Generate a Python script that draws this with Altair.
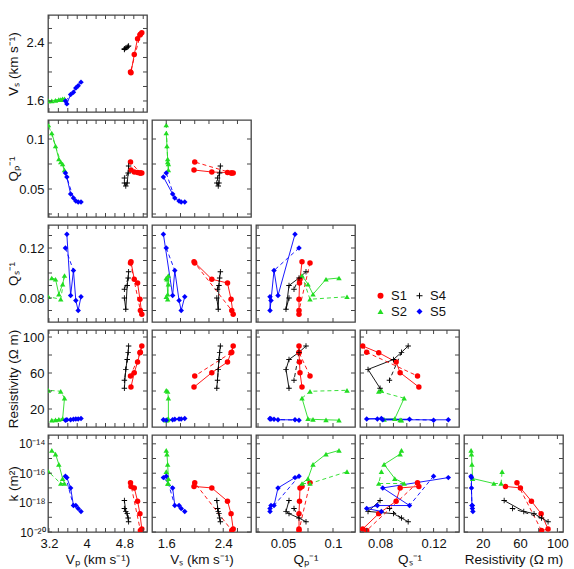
import altair as alt
import pandas as pd

# ---------------- measurements (same point order in every array) ----------------
samples = ["S1", "S2", "S4", "S5"]
sample_colors = ["#ff0000", "#22dd22", "#000000", "#0000ff"]
PLUS = "M-1,-0.16H1V0.16H-1Z M-0.16,-1H0.16V1H-0.16Z"
sample_shapes = ["circle", "triangle-up", PLUS, "diamond"]

s1_vp = [4.93, 4.94, 5.01, 5.08, 5.13, 5.17, 5.14]
s1_vs = [2.00, 1.99, 2.24, 2.46, 2.51, 2.54, 2.52]
s1_qp = [0.077, 0.069, 0.067, 0.0665, 0.066, 0.066, 0.066]
s1_qs = [0.108, 0.109, 0.095, 0.092, 0.079, 0.067, 0.070]
s1_res = [56.7, 44.4, 60.4, 72.2, 82.6, 90.0, 83.0]
s1_log10k = [-16.65, -16.9, -17.0, -17.9, -18.75, -19.8, -19.9]
s1_solid = [1, 2, 3, 4, 5]
s1_dashed = [5, 6, 0]

s2_vp = [3.19, 3.26, 3.34, 3.41, 3.45, 3.49, 3.53]
s2_vs = [1.60, 1.60, 1.61, 1.62, 1.62, 1.63, 1.63]
s2_qp = [0.114, 0.106, 0.093, 0.080, 0.077, 0.075, 0.069]
s2_qs = [0.081, 0.096, 0.095, 0.083, 0.079, 0.091, 0.098]
s2_res = [40.8, 7.6, 8.0, 8.5, 39.7, 9.2, 32.0]
s2_log10k = [-15.9, -14.45, -14.7, -15.4, -16.7, -16.36, -16.7]
s2_solid = [1, 2, 3, 5, 6]
s2_dashed = [6, 4, 0]

s4_vp = [4.80, 4.80, 4.83, 4.86, 4.88, 4.89]
s4_vs = [2.31, 2.32, 2.33, 2.34, 2.35, 2.36]
s4_qp = [0.056, 0.061, 0.053, 0.056, 0.066, 0.073]
s4_qs = [0.080, 0.087, 0.071, 0.090, 0.096, 0.101]
s4_res = [43.0, 52.0, 64.0, 75.0, 83.0, 90.0]
s4_log10k = [-17.86, -18.4, -18.6, -18.75, -19.05, -19.3]
s4_solid = [0, 2, 3, 4, 5]
s4_dashed = [4, 1]

s5_vp = [3.55, 3.58, 3.66, 3.72, 3.77, 3.82, 3.88]
s5_vs = [1.60, 1.56, 1.69, 1.72, 1.78, 1.81, 1.86]
s5_qp = [0.066, 0.062, 0.045, 0.041, 0.038, 0.037, 0.037]
s5_qs = [0.120, 0.131, 0.082, 0.102, 0.078, 0.070, 0.081]
s5_res = [7.5, 8.0, 8.0, 8.5, 9.0, 9.0, 9.5]
s5_log10k = [-16.2, -16.3, -17.0, -18.2, -18.2, -18.4, -18.6]
s5_solid = [1, 2, 3, 4, 5, 6]
s5_dashed = [0, 3]

# ---------------- tables ----------------
series = {
    "S1": (s1_vp, s1_vs, s1_qp, s1_qs, s1_res, s1_log10k, s1_solid, s1_dashed),
    "S2": (s2_vp, s2_vs, s2_qp, s2_qs, s2_res, s2_log10k, s2_solid, s2_dashed),
    "S4": (s4_vp, s4_vs, s4_qp, s4_qs, s4_res, s4_log10k, s4_solid, s4_dashed),
    "S5": (s5_vp, s5_vs, s5_qp, s5_qs, s5_res, s5_log10k, s5_solid, s5_dashed),
}

pts, solid_rows, dashed_rows = [], [], []
for name, (vp, vs, qp, qs, res, lk, solid, dashed) in series.items():
    recs = [dict(sample=name, vp=vp[i], vs=vs[i], qp=qp[i], qs=qs[i],
                 res=res[i], k=10 ** lk[i]) for i in range(len(vp))]
    pts += recs
    solid_rows += [dict(recs[i], ord=j) for j, i in enumerate(solid)]
    dashed_rows += [dict(recs[i], ord=j) for j, i in enumerate(dashed)]

points_df = pd.DataFrame(pts)
solid_df = pd.DataFrame(solid_rows)
dashed_df = pd.DataFrame(dashed_rows)

# ---------------- axes definitions ----------------
COL_VARS = ["vp", "vs", "qp", "qs", "res"]
ROW_VARS = ["vs", "qp", "qs", "res", "k"]

DOM_X = {"vp": [3.18, 5.28], "vs": [1.40, 2.79], "qp": [0.023, 0.122],
         "qs": [0.065, 0.139], "res": [0, 106]}
DOM_Y = {"vs": [1.448, 2.786], "qp": [0.022, 0.119], "qs": [0.0608, 0.1384],
         "res": [0, 107.8], "k": [1e-20, 10 ** -13.4]}

TITLES = {"vp": "Vₚ (km s⁻¹)", "vs": "Vₛ (km s⁻¹)", "qp": "Qₚ⁻¹",
          "qs": "Qₛ⁻¹", "res": "Resistivity (Ω m)", "k": "k (m²)"}
LABEL_VALUES = {"vp": [3.2, 4.0, 4.8], "vs": [1.6, 2.4], "qp": [0.05, 0.1],
                "qs": [0.08, 0.12], "res": [20, 60, 100],
                "k": [1e-20, 1e-18, 1e-16, 1e-14]}
TICK_VALUES = {
    "vp": [3.2, 3.4, 3.6, 3.8, 4.0, 4.2, 4.4, 4.6, 4.8, 5.0, 5.2],
    "vs": [1.6, 1.8, 2.0, 2.2, 2.4, 2.6],
    "qp": [0.025, 0.05, 0.075, 0.1],
    "qs": [0.07, 0.08, 0.09, 0.10, 0.11, 0.12, 0.13],
    "res": [20, 40, 60, 80, 100],
    "k": [1e-20, 1e-19, 1e-18, 1e-17, 1e-16, 1e-15, 1e-14],
}
K_EXPR = ("round(log(datum.value)/LN10) == -14 ? '10⁻¹⁴' : "
          "round(log(datum.value)/LN10) == -16 ? '10⁻¹⁶' : "
          "round(log(datum.value)/LN10) == -18 ? '10⁻¹⁸' : '10⁻²⁰'")

W, H = 99, 97
TL = 4
FONT = "Liberation Sans"
TICK_COLOR = "#444444"

color_scale = alt.Scale(domain=samples, range=sample_colors)
shape_scale = alt.Scale(domain=samples, range=sample_shapes)


def scale_for(v, dom):
    if v == "k":
        return alt.Scale(type="log", domain=dom, nice=False)
    return alt.Scale(domain=dom, nice=False, zero=False)


def axis_for(v, show, is_y):
    if not show:
        return None
    kw = dict(values=LABEL_VALUES[v], title=TITLES[v], ticks=False, domain=False,
              grid=False, labelFontSize=13, titleFontSize=13.5,
              titleFontWeight="normal", labelPadding=4, titlePadding=3,
              labelFlush=False, labelOverlap=False,
              labelFont=FONT, titleFont=FONT, labelColor="#111", titleColor="#111")
    if is_y:
        kw.update(minExtent=25, maxExtent=25)
    else:
        kw.update(labelPadding=5, titlePadding=2)
    if v == "k":
        kw.update(labelExpr=K_EXPR, labelFontSize=12, labelPadding=3)
    else:
        kw["format"] = ".6~g"
    return alt.Axis(**kw)


def panel(xv, yv, show_x, show_y):
    xs = scale_for(xv, DOM_X[xv])
    ys = scale_for(yv, DOM_Y[yv])
    xa = axis_for(xv, show_x, False)
    ya = axis_for(yv, show_y, True)

    def X(field):
        return alt.X(field, type="quantitative", scale=xs, axis=xa)

    def Y(field):
        return alt.Y(field, type="quantitative", scale=ys, axis=ya)

    col = alt.Color("sample:N", scale=color_scale, legend=None)
    solid = alt.Chart(solid_df).mark_line(strokeWidth=0.9, clip=True).encode(
        x=X(xv), y=Y(yv), color=col, detail="sample:N", order="ord:Q")
    dashed = alt.Chart(dashed_df).mark_line(strokeWidth=0.9, strokeDash=[4, 3],
                                            clip=True).encode(
        x=X(xv), y=Y(yv), color=col, detail="sample:N", order="ord:Q")
    dots = alt.Chart(points_df).mark_point(filled=True, size=30, opacity=1,
                                           clip=True).encode(
        x=X(xv), y=Y(yv), color=col,
        shape=alt.Shape("sample:N", scale=shape_scale, legend=None))

    xt = pd.DataFrame({"t": TICK_VALUES[xv]})
    yt = pd.DataFrame({"t": TICK_VALUES[yv]})
    rule = dict(color=TICK_COLOR, strokeWidth=1)
    xt_top = alt.Chart(xt).mark_rule(**rule).encode(
        x=X("t"), y=alt.value(0), y2=alt.value(TL))
    xt_bot = alt.Chart(xt).mark_rule(**rule).encode(
        x=X("t"), y=alt.value(H - TL), y2=alt.value(H))
    yt_left = alt.Chart(yt).mark_rule(**rule).encode(
        y=Y("t"), x=alt.value(0), x2=alt.value(TL))
    yt_right = alt.Chart(yt).mark_rule(**rule).encode(
        y=Y("t"), x=alt.value(W - TL), x2=alt.value(W))

    return alt.layer(solid, dashed, dots, xt_top, xt_bot, yt_left, yt_right).properties(
        width=W, height=H)


blank_df = pd.DataFrame({"t": [0]})


def blank():
    return alt.Chart(blank_df).mark_point(opacity=0).encode(
        x=alt.X("t:Q", axis=None), y=alt.Y("t:Q", axis=None)
    ).properties(width=W, height=H, view=alt.ViewBackground(stroke="transparent"))


leg = alt.Legend(orient="none", legendX=14, legendY=64, columns=2, title=None,
                 symbolSize=36, labelFontSize=13, labelFont=FONT, labelColor="#111",
                 columnPadding=6, rowPadding=2, labelOffset=4)
legend_cell = alt.Chart(pd.DataFrame({"sample": samples})).transform_filter(
    "false").mark_point(filled=True, opacity=1, size=36).encode(
    color=alt.Color("sample:N", scale=color_scale, legend=leg),
    shape=alt.Shape("sample:N", scale=shape_scale, legend=leg),
).properties(width=W, height=H, view=alt.ViewBackground(stroke="transparent"))

cells = []
for r, yv in enumerate(ROW_VARS):
    for c, xv in enumerate(COL_VARS):
        if c <= r:
            cells.append(panel(xv, yv, show_x=(r == 4), show_y=(c == 0)))
        elif (r, c) == (2, 3):
            cells.append(legend_cell)
        else:
            cells.append(blank())

chart = alt.concat(*cells, columns=5, spacing={"row": 8, "column": 5},
                   bounds="flush").resolve_scale(
    color="independent", shape="independent"
).properties(
    padding={"left": 5, "top": 13, "right": 5, "bottom": 2},
    background="white",
).configure_view(stroke="#444444", strokeWidth=1.3)

chart.save("out.html", embed_options={"renderer": "svg", "actions": False})
